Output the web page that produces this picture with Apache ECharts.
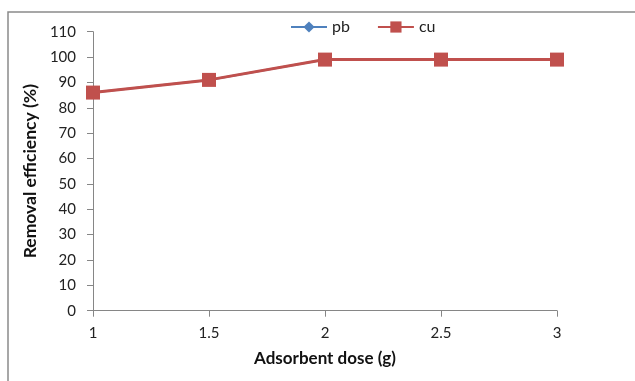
<!DOCTYPE html>
<html>
<head>
<meta charset="utf-8">
<script src="https://cdn.jsdelivr.net/npm/echarts@6/dist/echarts.min.js"></script>
<style>html,body{margin:0;padding:0;background:#fff}#c{width:635px;height:381px}</style>
</head>
<body>
<div id="c"></div>
<script>
const categories = ['1', '1.5', '2', '2.5', '3'];
const pbValues = [86, 91, 99, 99, 99];
const cuValues = [86, 91, 99, 99, 99];
const yMin = 0, yMax = 110, yStep = 10;

const chart = echarts.init(document.getElementById('c'));
const axisColor = '#868686';
const font = 'Lato, "Open Sans", sans-serif';
chart.setOption({
  animation: false,
  backgroundColor: '#fff',
  textStyle: { fontFamily: font },
  graphic: [{
    type: 'rect', silent: true,
    shape: { x: 8, y: 12, width: 660, height: 420 },
    style: { fill: 'none', stroke: '#8a8a8a', lineWidth: 1.5 }
  }],
  legend: {
    left: 285, top: 14,
    itemWidth: 36, itemHeight: 14, itemGap: 27, itemTextGap: 4,
    textStyle: { fontFamily: font, fontSize: 16, color: '#222' },
    data: ['pb', 'cu']
  },
  grid: { left: 93, right: 78, top: 31.7, bottom: 70.3, containLabel: false },
  xAxis: {
    type: 'category', data: categories, boundaryGap: false,
    name: 'Adsorbent dose (g)', nameLocation: 'middle', nameGap: 39,
    nameTextStyle: { fontFamily: font, fontSize: 17, fontWeight: 'bold', color: '#111' },
    axisLine: { lineStyle: { color: axisColor, width: 1 } },
    axisTick: { show: true, length: 6, lineStyle: { color: axisColor } },
    axisLabel: { margin: 15, fontSize: 15, color: '#222', fontFamily: font },
    splitLine: { show: false }
  },
  yAxis: {
    type: 'value', min: yMin, max: yMax, interval: yStep,
    name: 'Removal efficiency (%)', nameLocation: 'middle', nameGap: 47,
    nameTextStyle: { fontFamily: font, fontSize: 17.5, fontWeight: 'bold', color: '#111' },
    axisLine: { show: true, lineStyle: { color: axisColor, width: 1 } },
    axisTick: { show: true, length: 6, lineStyle: { color: axisColor } },
    axisLabel: { margin: 17, fontSize: 15, color: '#222', fontFamily: font },
    splitLine: { show: false }
  },
  series: [
    {
      name: 'pb', type: 'line', data: pbValues,
      symbol: 'diamond', symbolSize: 11,
      lineStyle: { color: '#4F81BD', width: 2 },
      itemStyle: { color: '#4F81BD' }
    },
    {
      name: 'cu', type: 'line', data: cuValues,
      symbol: 'rect', symbolSize: 14,
      lineStyle: { color: '#C0504D', width: 3 },
      itemStyle: { color: '#C0504D' }
    }
  ]
});
</script>
</body>
</html>
